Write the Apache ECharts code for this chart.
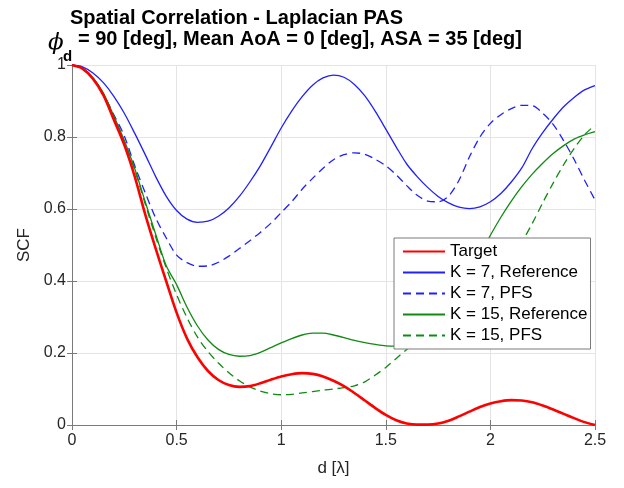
<!DOCTYPE html>
<html>
<head>
<meta charset="utf-8">
<script src="https://cdn.jsdelivr.net/npm/echarts@6/dist/echarts.min.js"></script>
<style>
html,body{margin:0;padding:0;background:#fff;}
#chart{width:624px;height:488px;}
</style>
</head>
<body>
<div id="chart"></div>
<script>
// distance d [lambda]
const dValues = [0,0.05,0.1,0.15,0.2,0.25,0.3,0.35,0.4,0.45,0.5,0.55,0.6,0.65,0.7,0.75,0.8,0.85,0.9,0.95,1,1.05,1.1,1.15,1.2,1.25,1.3,1.35,1.4,1.45,1.5,1.55,1.6,1.65,1.7,1.75,1.8,1.85,1.9,1.95,2,2.05,2.1,2.15,2.2,2.25,2.3,2.35,2.4,2.45,2.5];

const target = [1.000,0.990,0.962,0.916,0.848,0.778,0.690,0.585,0.490,0.400,0.312,0.240,0.188,0.150,0.125,0.111,0.106,0.108,0.116,0.126,0.135,0.141,0.144,0.142,0.135,0.123,0.108,0.089,0.068,0.047,0.028,0.013,0.004,0.001,0.001,0.004,0.012,0.024,0.037,0.050,0.060,0.066,0.069,0.068,0.063,0.054,0.043,0.031,0.019,0.008,0.000];

const k7Reference = [1.000,0.995,0.978,0.951,0.913,0.866,0.810,0.751,0.690,0.636,0.596,0.572,0.563,0.566,0.580,0.603,0.635,0.675,0.720,0.772,0.825,0.872,0.912,0.944,0.964,0.972,0.966,0.946,0.914,0.871,0.822,0.772,0.725,0.690,0.660,0.635,0.617,0.605,0.601,0.606,0.620,0.643,0.675,0.714,0.768,0.812,0.850,0.884,0.910,0.931,0.943];

const k7PFS = [1.000,0.990,0.962,0.918,0.862,0.803,0.720,0.645,0.575,0.520,0.472,0.451,0.441,0.442,0.452,0.469,0.490,0.512,0.535,0.560,0.590,0.620,0.655,0.685,0.713,0.737,0.751,0.756,0.752,0.738,0.720,0.695,0.665,0.638,0.622,0.620,0.636,0.680,0.745,0.800,0.838,0.862,0.879,0.888,0.887,0.866,0.835,0.790,0.738,0.680,0.625];

const k15Reference = [1.000,0.991,0.965,0.922,0.858,0.790,0.712,0.620,0.530,0.443,0.390,0.327,0.275,0.236,0.210,0.196,0.191,0.193,0.202,0.215,0.228,0.240,0.250,0.255,0.255,0.250,0.243,0.235,0.229,0.224,0.220,0.219,0.223,0.237,0.262,0.293,0.330,0.372,0.420,0.473,0.527,0.577,0.622,0.662,0.697,0.727,0.754,0.776,0.794,0.806,0.815];

const k15PFS = [1.000,0.991,0.964,0.921,0.856,0.788,0.708,0.614,0.522,0.437,0.362,0.298,0.244,0.204,0.172,0.145,0.123,0.106,0.094,0.087,0.084,0.085,0.089,0.093,0.097,0.100,0.104,0.109,0.120,0.139,0.160,0.185,0.210,0.236,0.262,0.290,0.318,0.346,0.376,0.405,0.435,0.460,0.485,0.510,0.560,0.617,0.672,0.723,0.768,0.806,0.833];

const seriesNames = ['Target','K = 7, Reference','K = 7, PFS','K = 15, Reference','K = 15, PFS'];
const xTicks = [0,0.5,1,1.5,2,2.5];
const yTicks = [0,0.2,0.4,0.6,0.8,1];

function pairs(vals){ return dValues.map((d,i)=>[d, vals[i]]); }

const axisColor = '#7a7a7a';
const gridColor = '#e4e4e4';
const font = 'Liberation Sans, Arial, Helvetica, sans-serif';

const chart = echarts.init(document.getElementById('chart'), null, {renderer:'canvas'});
chart.setOption({
  animation: false,
  backgroundColor: '#ffffff',
  grid: {left:72, right:29, top:65, bottom:63, containLabel:false, outerBoundsMode:'none'},
  graphic: [
    {type:'text', left:70, top:8, style:{text:'Spatial Correlation - Laplacian PAS', font:'bold 20px '+font, fill:'#000'}},
    {type:'text', left:48, top:32, style:{text:'\u03D5', font:'italic 23px DejaVu Serif, serif', fill:'#000'}},
    {type:'text', left:63, top:49, style:{text:'d', font:'bold 15px '+font, fill:'#000'}},
    {type:'text', left:78, top:29, style:{text:'= 90 [deg], Mean AoA = 0 [deg], ASA = 35 [deg]', font:'bold 20px '+font, fill:'#000'}}
  ],
  legend: {
    orient:'vertical', left:394, top:238,
    data: seriesNames,
    itemWidth:42, itemHeight:17, itemGap:4,
    padding:[5,3,5,8],
    backgroundColor:'#ffffff', borderColor:'#7a7a7a', borderWidth:1,
    textStyle:{fontFamily:font, fontSize:17, color:'#000'},
    itemStyle:{opacity:0}
  },
  xAxis: [
    {type:'value', min:xTicks[0], max:xTicks[xTicks.length-1], interval:0.5, position:'bottom',
     name:'d [\u03BB]', nameLocation:'middle', nameGap:35,
     nameTextStyle:{fontFamily:font, fontSize:17, color:'#262626'},
     axisLine:{show:true, lineStyle:{color:axisColor, width:1}},
     axisTick:{show:true, inside:true, length:5, lineStyle:{color:axisColor}},
     axisLabel:{fontFamily:font, fontSize:16, color:'#262626', margin:8},
     splitLine:{show:true, lineStyle:{color:gridColor, width:1}}},
    {type:'value', min:xTicks[0], max:xTicks[xTicks.length-1], interval:0.5, position:'top',
     axisLine:{show:true, lineStyle:{color:axisColor, width:1}},
     axisTick:{show:true, inside:true, length:5, lineStyle:{color:axisColor}},
     axisLabel:{show:false}, splitLine:{show:false}}
  ],
  yAxis: [
    {type:'value', min:yTicks[0], max:yTicks[yTicks.length-1], interval:0.2, position:'left',
     name:'SCF', nameLocation:'middle', nameGap:39,
     nameTextStyle:{fontFamily:font, fontSize:17, color:'#262626'},
     axisLine:{show:true, lineStyle:{color:axisColor, width:1}},
     axisTick:{show:true, inside:true, length:5, lineStyle:{color:axisColor}},
     axisLabel:{fontFamily:font, fontSize:16, color:'#262626', margin:6},
     splitLine:{show:true, lineStyle:{color:gridColor, width:1}}},
    {type:'value', min:yTicks[0], max:yTicks[yTicks.length-1], interval:0.2, position:'right',
     axisLine:{show:true, lineStyle:{color:axisColor, width:1}},
     axisTick:{show:true, inside:true, length:5, lineStyle:{color:axisColor}},
     axisLabel:{show:false}, splitLine:{show:false}}
  ],
  series: [
    {name:seriesNames[0], type:'line', data:pairs(target), symbol:'none', smooth:0.3, z:5,
     lineStyle:{color:'#ff0000', width:2.6}, itemStyle:{color:'#ff0000'}},
    {name:seriesNames[1], type:'line', data:pairs(k7Reference), symbol:'none', smooth:0.3,
     lineStyle:{color:'#2020ff', width:1.3}, itemStyle:{color:'#2020ff'}},
    {name:seriesNames[2], type:'line', data:pairs(k7PFS), symbol:'none', smooth:0.3,
     lineStyle:{color:'#2020ff', width:1.3, type:[8,5]}, itemStyle:{color:'#2020ff'}},
    {name:seriesNames[3], type:'line', data:pairs(k15Reference), symbol:'none', smooth:0.3,
     lineStyle:{color:'#108a10', width:1.3}, itemStyle:{color:'#108a10'}},
    {name:seriesNames[4], type:'line', data:pairs(k15PFS), symbol:'none', smooth:0.3,
     lineStyle:{color:'#108a10', width:1.3, type:[8,5]}, itemStyle:{color:'#108a10'}}
  ]
});
</script>
</body>
</html>
